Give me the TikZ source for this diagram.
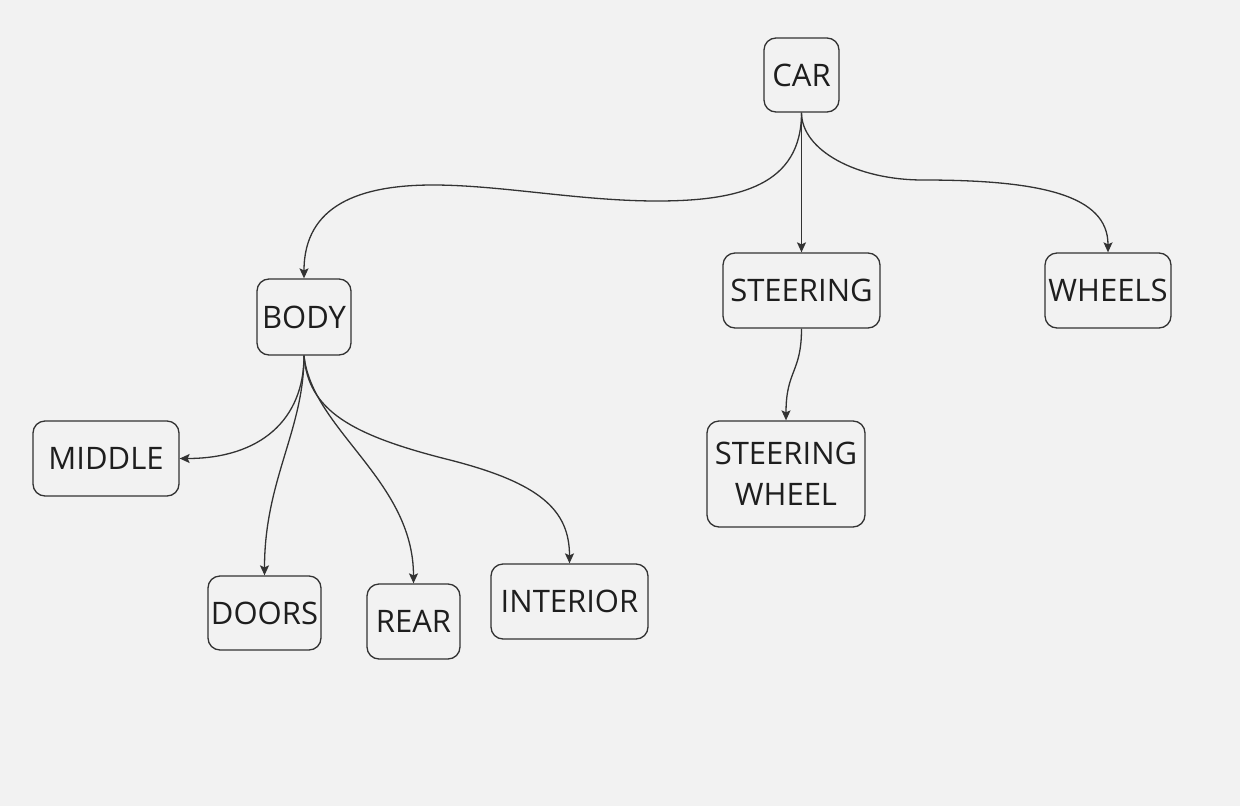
\documentclass[tikz,border=0pt]{standalone}
\usepackage{fontspec}
\setmainfont{Open Sans}
\usetikzlibrary{arrows.meta}
\definecolor{bgc}{HTML}{F2F2F2}
\definecolor{linec}{HTML}{333333}
\definecolor{txtc}{HTML}{1E1E1E}
\tikzset{
  box/.style={draw=linec, line width=1.3pt, rounded corners=12pt, fill=bgc,
    inner sep=0pt, text=txtc, align=center,
    font=\fontsize{31}{41}\selectfont},
  conn/.style={draw=linec, line width=1.3pt,
    -{Stealth[length=10pt,width=9pt,inset=2pt]}}
}
\begin{document}
\begin{tikzpicture}[x=1pt,y=-1pt]
\fill[bgc] (0,0) rectangle (1240,806);
\useasboundingbox (0,0) rectangle (1240,806);

\node[box, minimum width=75pt, minimum height=74pt] (car) at (801.5,75) {CAR};
\node[box, minimum width=94pt, minimum height=76pt] (body) at (304,317) {BODY};
\node[box, minimum width=157pt, minimum height=75pt] (steer) at (801.5,290.5) {STEERING};
\node[box, minimum width=126pt, minimum height=75pt] (wheels) at (1108,290.5) {WHEELS};
\node[box, minimum width=158pt, minimum height=106pt] (sw) at (786,474) {STEERING\\WHEEL};
\node[box, minimum width=146pt, minimum height=75pt] (middle) at (106,458.5) {MIDDLE};
\node[box, minimum width=113pt, minimum height=74pt] (doors) at (264.5,613) {DOORS};
\node[box, minimum width=93pt, minimum height=75pt] (rear) at (413.5,621.5) {REAR};
\node[box, minimum width=157pt, minimum height=75pt] (interior) at (569.5,601.5) {INTERIOR};

% CAR connectors
\draw[conn] (car.south) .. controls (801.5,185) and (740,201) .. (657,201)
  .. controls (580,201) and (500,185) .. (433,185)
  .. controls (360,185) and (304,205) .. (body.north);
\draw[conn] (car.south) -- (steer.north);
\draw[conn] (car.south) .. controls (801.5,150) and (856,180) .. (923,180)
  .. controls (1040,180) and (1108,195) .. (wheels.north);

% STEERING connector
\draw[conn] (steer.south) .. controls (801.5,373) and (786,370) .. (sw.north);

% BODY connectors
\draw[conn] (body.south) .. controls (304,420) and (260,458.5) .. (middle.east);
\draw[conn] (body.south) .. controls (304,430) and (264.5,480) .. (doors.north);
\draw[conn] (body.south) .. controls (312,430) and (413.5,480) .. (rear.north);
\draw[conn] (body.south) .. controls (308,410) and (350,435) .. (450,460)
  .. controls (540,483) and (569.5,510) .. (interior.north);
\end{tikzpicture}
\end{document}
